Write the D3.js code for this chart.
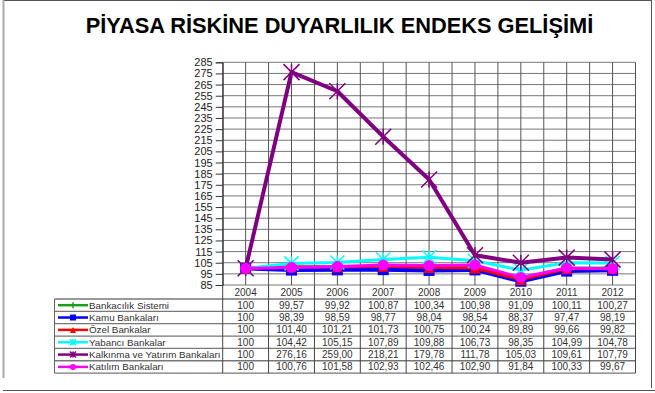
<!DOCTYPE html>
<html><head><meta charset="utf-8">
<script src="https://cdn.jsdelivr.net/npm/d3@7"></script>
<style>body{margin:0;background:#fff}svg{display:block}text{font-family:"Liberation Sans",Arial,sans-serif}</style>
</head><body><svg id="c" width="655" height="393"></svg>
<script>
const years = ["2004","2005","2006","2007","2008","2009","2010","2011","2012"];
const seriesNames = ["Bankacılık Sistemi","Kamu Bankaları","Özel Bankalar","Yabancı Bankalar","Kalkınma ve Yatırım Bankaları","Katılım Bankaları"];
const bankacilik = [100, 99.57, 99.92, 100.87, 100.34, 100.98, 91.09, 100.11, 100.27];
const kamu = [100, 98.39, 98.59, 98.77, 98.04, 98.54, 88.37, 97.47, 98.19];
const ozel = [100, 101.40, 101.21, 101.73, 100.75, 100.24, 89.89, 99.66, 99.82];
const yabanci = [100, 104.42, 105.15, 107.89, 109.88, 106.73, 98.35, 104.99, 104.78];
const kalkinma = [100, 276.16, 259.00, 218.21, 179.78, 111.78, 105.03, 109.61, 107.79];
const katilim = [100, 100.76, 101.58, 102.93, 102.46, 102.90, 91.84, 100.33, 99.67];
const yTicks = d3.range(85, 286, 10);

const seriesValues = [bankacilik, kamu, ozel, yabanci, kalkinma, katilim];
const colors = ["#1a9e1a","#0000ff","#ff0000","#00ffff","#800080","#ff00ff"];
const markers = ["plus","square","triangle","x","star","circle"];
const widths = [3,4,3,3,4,3];

const svg = d3.select("#c");
const L = 222.7, R = 635.5, T = 62.3, B = 285;
const x = d3.scaleBand().domain(years).range([L, R]);
const y = d3.scaleLinear().domain([85, 285]).range([B, T]);
const cx = d => x(d) + x.bandwidth()/2;

// frame
svg.append("line").attr("x1",3).attr("x2",652).attr("y1",0.5).attr("y2",0.5).attr("stroke","#555");
svg.append("line").attr("x1",3.5).attr("x2",3.5).attr("y1",0).attr("y2",378).attr("stroke","#aaa").attr("stroke-width",2);
svg.append("line").attr("x1",651.5).attr("x2",651.5).attr("y1",0).attr("y2",388).attr("stroke","#555");
svg.append("line").attr("x1",3).attr("x2",655).attr("y1",390.5).attr("y2",390.5).attr("stroke","#555");

// title
svg.append("text").attr("x",339.5).attr("y",33).attr("text-anchor","middle")
  .attr("font-size",21.8).attr("font-weight","bold").attr("fill","#000")
  .text("PİYASA RİSKİNE DUYARLILIK ENDEKS GELİŞİMİ");

// grid
const g = svg.append("g");
yTicks.forEach(t => g.append("line").attr("x1",L).attr("x2",R).attr("y1",y(t)).attr("y2",y(t)).attr("stroke","#777").attr("stroke-width",1));
years.forEach(yr => {
  g.append("line").attr("x1",x(yr)).attr("x2",x(yr)).attr("y1",T).attr("y2",B).attr("stroke","#555");
  g.append("line").attr("x1",cx(yr)).attr("x2",cx(yr)).attr("y1",T).attr("y2",B).attr("stroke","#555");
});
g.append("line").attr("x1",R).attr("x2",R).attr("y1",T).attr("y2",B).attr("stroke","#555");

// y axis
const ya = svg.append("g").attr("transform",`translate(${L},0)`)
  .call(d3.axisLeft(y).tickValues(yTicks).tickSize(7).tickPadding(3));
ya.select(".domain").attr("stroke","#333");
ya.selectAll(".tick line").attr("stroke","#333");
ya.selectAll("text").attr("font-size",11).attr("fill","#222").attr("font-family","Liberation Sans, Arial, sans-serif");

// marker drawing
function drawMarker(sel, type, color, s) {
  const h = s/2;
  if (type === "plus") {
    sel.append("path").attr("d",`M${-h},0H${h}M0,${-h}V${h}`).attr("stroke",color).attr("stroke-width",1.5).attr("fill","none");
  } else if (type === "square") {
    sel.append("rect").attr("x",-h).attr("y",-h).attr("width",s).attr("height",s).attr("fill",color);
  } else if (type === "triangle") {
    sel.append("path").attr("d",`M0,${-h}L${h},${h}L${-h},${h}Z`).attr("fill",color);
  } else if (type === "x") {
    sel.append("path").attr("d",`M${-h},${-h}L${h},${h}M${-h},${h}L${h},${-h}M0,${-h}V${h}`).attr("stroke",color).attr("stroke-width",1.5).attr("fill","none");
  } else if (type === "star") {
    sel.append("path").attr("d",`M${-h},${-h}L${h},${h}M${-h},${h}L${h},${-h}M0,${-h}V${h}`).attr("stroke",color).attr("stroke-width",1.5).attr("fill","none");
  } else if (type === "circle") {
    sel.append("circle").attr("r",h).attr("fill",color);
  }
}
const mSize = [8,11,11,14,16,11];

// lines
const line = d3.line().x((d,i)=>cx(years[i])).y(d=>y(d));
seriesValues.forEach((vals, si) => {
  svg.append("path").datum(vals).attr("d",line).attr("fill","none")
    .attr("stroke",colors[si]).attr("stroke-width",widths[si]).attr("stroke-linejoin","round");
  vals.forEach((v,i) => {
    const m = svg.append("g").attr("transform",`translate(${cx(years[i])},${y(v)})`);
    drawMarker(m, markers[si], colors[si], mSize[si]);
  });
});

// table
const hdrTop = B, hdrBot = 299, rowH = 12.35;
const tb = svg.append("g");
const tableBot = hdrBot + rowH*6;
years.forEach(yr => {
  tb.append("text").attr("x",cx(yr)).attr("y",hdrTop+11).attr("text-anchor","middle")
    .attr("font-size",10).attr("fill","#333").text(yr);
});
for (let r=0; r<=6; r++) {
  const yy = hdrBot + r*rowH;
  tb.append("line").attr("x1",54.5).attr("x2",R).attr("y1",yy).attr("y2",yy).attr("stroke","#777").attr("stroke-width",1.3);
}
tb.append("line").attr("x1",54.5).attr("x2",54.5).attr("y1",hdrBot).attr("y2",tableBot).attr("stroke","#666");
years.forEach(yr => tb.append("line").attr("x1",x(yr)).attr("x2",x(yr)).attr("y1",hdrTop).attr("y2",tableBot).attr("stroke","#444"));
tb.append("line").attr("x1",R).attr("x2",R).attr("y1",hdrTop).attr("y2",tableBot).attr("stroke","#444");

const fmt = (v,i) => i === 0 ? String(v) : v.toFixed(2).replace(".",",");
seriesValues.forEach((vals, si) => {
  const yc = hdrBot + si*rowH + rowH/2;
  tb.append("line").attr("x1",58).attr("x2",88).attr("y1",yc).attr("y2",yc).attr("stroke",colors[si]).attr("stroke-width",2.5);
  const m = tb.append("g").attr("transform",`translate(73,${yc})`);
  drawMarker(m, markers[si], colors[si], 6);
  tb.append("text").attr("x",89).attr("y",yc+3.5).attr("font-size",9.8).attr("fill","#333").text(seriesNames[si]);
  vals.forEach((v,i) => {
    tb.append("text").attr("x",cx(years[i])).attr("y",yc+3.5).attr("text-anchor","middle")
      .attr("font-size",10).attr("fill","#333").text(fmt(v,i));
  });
});
</script></body></html>
